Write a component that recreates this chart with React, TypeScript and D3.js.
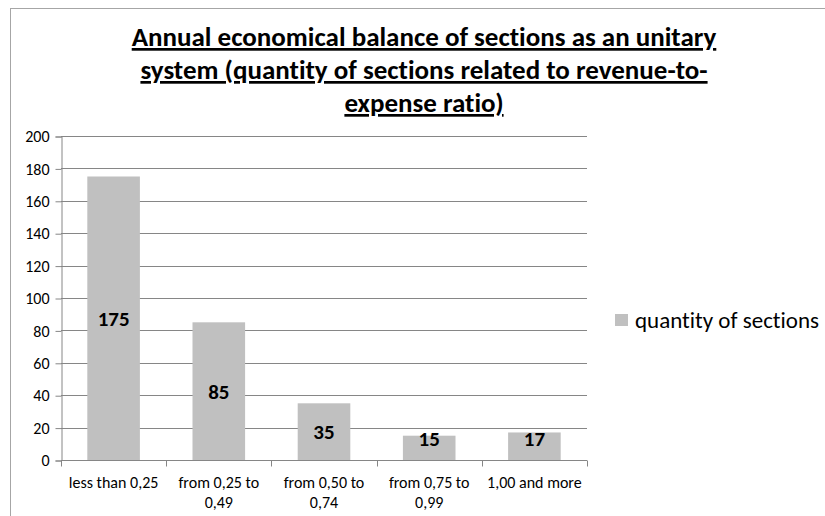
import { useEffect, useRef } from "react";
import * as d3 from "d3";

const categories = [
  ["less than 0,25"],
  ["from 0,25 to", "0,49"],
  ["from 0,50 to", "0,74"],
  ["from 0,75 to", "0,99"],
  ["1,00 and more"],
];
const sections = [175, 85, 35, 15, 17];
const yTicks = [0, 20, 40, 60, 80, 100, 120, 140, 160, 180, 200];
const titleLines = [
  "Annual economical balance of sections as an unitary",
  "system (quantity of sections related to revenue-to-",
  "expense ratio)",
];
const seriesName = "quantity of sections";

const FONT = "Carlito, 'Open Sans', 'DejaVu Sans', sans-serif";

function App() {
  const ref = useRef<SVGSVGElement>(null);

  useEffect(() => {
    const svg = d3.select(ref.current);
    svg.selectAll("*").remove();
    const width = 825;
    const height = 516;
    const m = { top: 136, right: 238, bottom: 56, left: 61 };

    // chart border (cropped by the picture)
    svg
      .append("rect")
      .attr("x", 10.5)
      .attr("y", 8.5)
      .attr("width", 900)
      .attr("height", 600)
      .attr("fill", "white")
      .attr("stroke", "#a6a6a6");

    const labels = categories.map((c) => c.join(" "));
    const x = d3
      .scaleBand()
      .domain(labels)
      .range([m.left, width - m.right])
      .paddingInner(0.5)
      .paddingOuter(0.25);

    const y = d3
      .scaleLinear()
      .domain([0, 200])
      .range([height - m.bottom, m.top]);

    // title
    const title = svg
      .append("text")
      .attr("font-family", FONT)
      .attr("font-weight", "bold")
      .attr("font-size", 27)
      .attr("text-decoration", "underline")
      .attr("text-anchor", "middle")
      .style("font-variant-ligatures", "none")
      .attr("fill", "#000");
    titleLines.forEach((t, i) => {
      title
        .append("tspan")
        .attr("x", 424)
        .attr("y", 46 + i * 33)
        .text(t);
    });

    // gridlines
    svg
      .append("g")
      .selectAll("line")
      .data(yTicks.filter((d) => d > 0))
      .join("line")
      .attr("x1", m.left)
      .attr("x2", width - m.right)
      .attr("y1", (d) => Math.round(y(d)) + 0.5)
      .attr("y2", (d) => Math.round(y(d)) + 0.5)
      .attr("stroke", "#868686");

    // y axis
    const yAxis = svg
      .append("g")
      .attr("transform", `translate(${m.left + 0.5},0.5)`)
      .call(d3.axisLeft(y).tickValues(yTicks).tickSize(6).tickPadding(6));
    yAxis.select(".domain").attr("stroke", "#868686");
    yAxis.selectAll(".tick line").attr("stroke", "#868686");
    yAxis
      .selectAll(".tick text")
      .attr("font-family", FONT)
      .attr("font-size", 16)
      .attr("fill", "#000");

    // bars
    svg
      .selectAll(".bar")
      .data(sections)
      .join("rect")
      .attr("class", "bar")
      .attr("x", (_, i) => x(labels[i]) ?? 0)
      .attr("y", (d) => y(d))
      .attr("width", x.bandwidth())
      .attr("height", (d) => y(0) - y(d))
      .attr("fill", "#c0c0c0");

    // x axis
    const y0 = Math.round(y(0)) + 0.5;
    svg
      .append("line")
      .attr("x1", m.left)
      .attr("x2", width - m.right)
      .attr("y1", y0)
      .attr("y2", y0)
      .attr("stroke", "#868686");
    const step = x.step();
    svg
      .append("g")
      .selectAll("line")
      .data(d3.range(labels.length + 1))
      .join("line")
      .attr("x1", (i) => Math.round(m.left + i * step) + 0.5)
      .attr("x2", (i) => Math.round(m.left + i * step) + 0.5)
      .attr("y1", y0)
      .attr("y2", y0 + 6)
      .attr("stroke", "#868686");

    const xl = svg
      .append("g")
      .selectAll("text")
      .data(categories)
      .join("text")
      .attr("font-family", FONT)
      .attr("font-size", 16)
      .attr("text-anchor", "middle")
      .attr("fill", "#000");
    xl.each(function (lines, i) {
      const cx = (x(labels[i]) ?? 0) + x.bandwidth() / 2;
      lines.forEach((t, j) => {
        d3.select(this)
          .append("tspan")
          .attr("x", cx)
          .attr("y", 488 + j * 20)
          .text(t);
      });
    });

    // data labels (kept inside short bars, like the spreadsheet does)
    svg
      .append("g")
      .selectAll("text")
      .data(sections)
      .join("text")
      .attr("x", (_, i) => (x(labels[i]) ?? 0) + x.bandwidth() / 2)
      .attr("y", (d) => Math.min((y(d) + y(0)) / 2, y(0) - 21))
      .attr("dy", "0.35em")
      .attr("text-anchor", "middle")
      .attr("font-family", FONT)
      .attr("font-weight", "bold")
      .attr("font-size", 21)
      .attr("fill", "#000")
      .text((d) => d);

    // legend
    const lg = svg.append("g").attr("transform", "translate(615,314)");
    lg.append("rect").attr("width", 13).attr("height", 12).attr("fill", "#c0c0c0");
    lg.append("text")
      .attr("x", 20)
      .attr("y", 6)
      .attr("dy", "0.35em")
      .attr("font-family", FONT)
      .attr("font-size", 23)
      .style("font-variant-ligatures", "none")
      .attr("fill", "#000")
      .text(seriesName);
  }, []);

  return (
    <svg
      ref={ref}
      width={825}
      height={516}
      style={{ position: "absolute", left: 0, top: 0, background: "white" }}
    />
  );
}

export default App;
